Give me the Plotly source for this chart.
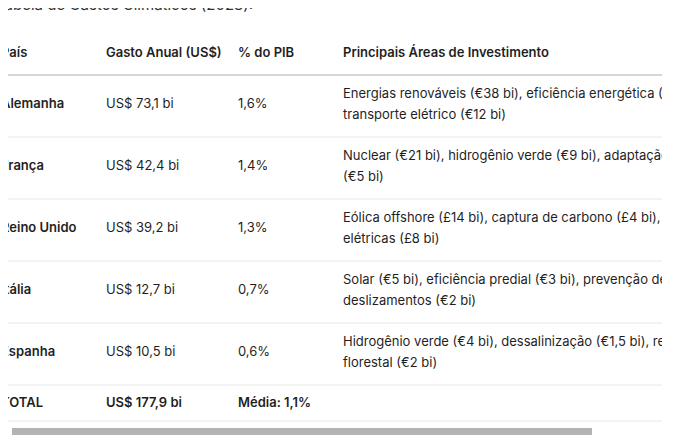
import plotly.graph_objects as go

title = "Tabela de Gastos Climáticos (2023):"
headers = ["País", "Gasto Anual (US$)", "% do PIB", "Principais Áreas de Investimento"]
paises = ["Alemanha", "França", "Reino Unido", "Itália", "Espanha"]
gastos = ["US$ 73,1 bi", "US$ 42,4 bi", "US$ 39,2 bi", "US$ 12,7 bi", "US$ 10,5 bi"]
pib = ["1,6%", "1,4%", "1,3%", "0,7%", "0,6%"]
areas_l1 = ["Energias renováveis (€38 bi), eficiência energética (€23 bi),",
            "Nuclear (€21 bi), hidrogênio verde (€9 bi), adaptação climática",
            "Eólica offshore (£14 bi), captura de carbono (£4 bi), redes",
            "Solar (€5 bi), eficiência predial (€3 bi), prevenção de",
            "Hidrogênio verde (€4 bi), dessalinização (€1,5 bi), restauração"]
areas_l2 = ["transporte elétrico (€12 bi)", "(€5 bi)", "elétricas (£8 bi)",
            "deslizamentos (€2 bi)", "florestal (€2 bi)"]
total = ["TOTAL", "US$ 177,9 bi", "Média: 1,1%", ""]

colx = [9, 114, 246, 351]
row_y = [105, 167, 229, 291, 353]
FONT = "Inter"
C = "#1f1f1f"
OFF = 8          # page body margin
W, H = 700 - OFF, 446 - OFF

def px(x): return (x - OFF) / W
def py(y): return 1 - (y - OFF) / H

fig = go.Figure()

def txt(xs, ys, texts, bold=False, size=13):
    fig.add_trace(go.Scatter(x=xs, y=ys, text=texts, mode="text",
        textposition="middle right", cliponaxis=True, hoverinfo="skip",
        textfont=dict(family=FONT, size=size, color=C, weight=600 if bold else 400)))

txt([x - 8 for x in colx], [54]*4, headers, bold=True)
txt([colx[0] - 8]*5, row_y, paises, bold=True)
txt([colx[1] - 8]*5, row_y, gastos)
txt([colx[2] - 8]*5, row_y, pib)
txt([colx[3] - 8]*5, [y - 10 for y in row_y], areas_l1)
txt([colx[3] - 8]*5, [y + 11 for y in row_y], areas_l2)
txt([x - 8 for x in colx[:3]], [404]*3, total[:3], bold=True)

shapes = [dict(type="line", xref="x", yref="y", x0=0, x1=700, y0=75, y1=75,
               line=dict(color="#c8c8c8", width=1.5))]
for y in [137, 199, 261, 323, 385, 421]:
    shapes.append(dict(type="line", xref="x", yref="y", x0=0, x1=700, y0=y, y1=y,
                       line=dict(color="#e6e6e6", width=1)))
shapes.append(dict(type="rect", xref="paper", yref="paper",
                   x0=px(12), x1=px(592), y0=py(435), y1=py(428),
                   fillcolor="#b3b3b3", line=dict(width=0), layer="above"))

fig.update_layout(
    width=W, height=H, margin=dict(l=0, r=0, t=0, b=0),
    paper_bgcolor="white", plot_bgcolor="white", showlegend=False,
    shapes=shapes,
    xaxis=dict(range=[OFF, 662], domain=[0, px(662)], visible=False, fixedrange=True),
    yaxis=dict(range=[446, OFF], domain=[0, 1], visible=False, fixedrange=True),
    annotations=[dict(text=title, x=px(4) - 10/W, y=py(13) + 8/H, xref="paper", yref="paper",
                      xanchor="left", yanchor="middle", showarrow=False,
                      font=dict(family=FONT, size=15, color="#333"))],
)
fig.write_html("out.html")
